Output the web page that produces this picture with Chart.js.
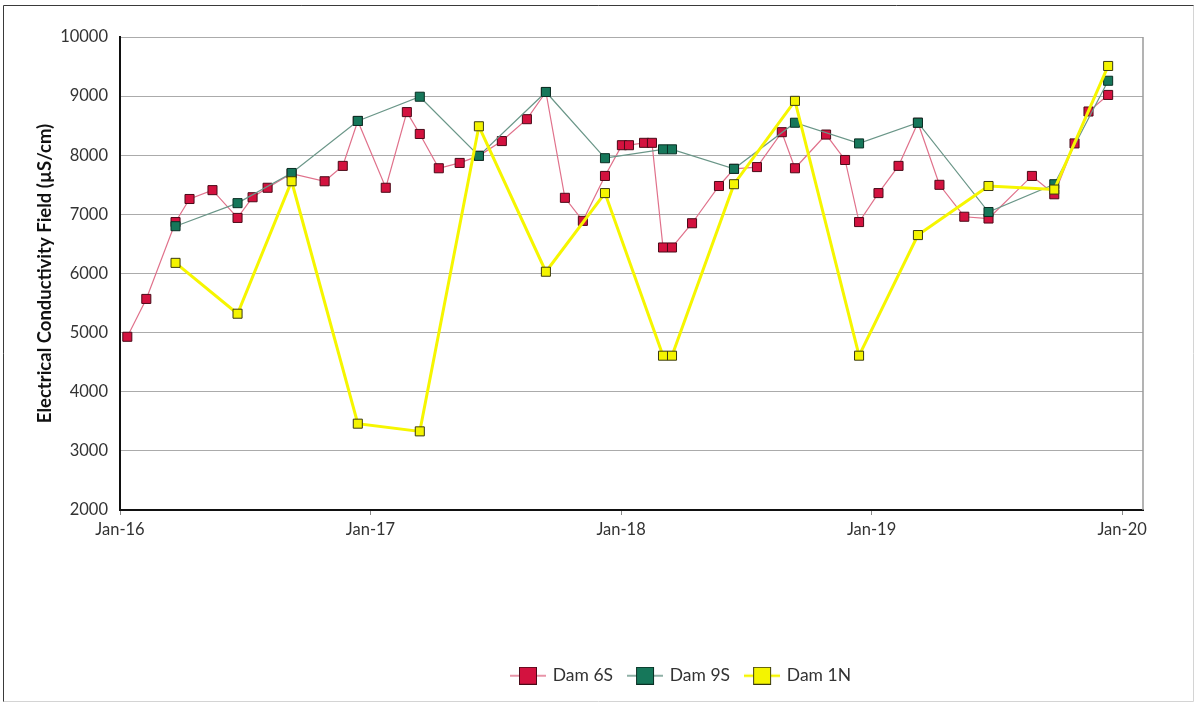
<!DOCTYPE html>
<html>
<head>
<meta charset="utf-8">
<title>Electrical Conductivity Field</title>
<script src="https://cdn.jsdelivr.net/npm/chart.js@4.4.1/dist/chart.umd.min.js"></script>
<style>
  html, body { margin: 0; padding: 0; background: #fff; }
  canvas { display: block; }
</style>
</head>
<body>
<canvas id="ecChart" width="1197" height="704"></canvas>
<script>
// x values are months counted from Jan 2016
const xTickLabels = ['Jan-16', 'Jan-17', 'Jan-18', 'Jan-19', 'Jan-20'];
const seriesNames = ['Dam 6S', 'Dam 9S', 'Dam 1N'];

const dam6sMonths = [0.35, 1.26, 2.66, 3.33, 4.43, 5.63, 6.35, 7.07, 8.22, 9.80,
  10.67, 11.39, 12.73, 13.74, 14.36, 15.27, 16.27, 17.19, 18.29, 19.49,
  20.40, 21.31, 22.17, 23.23, 24.04, 24.38, 25.10, 25.48, 26.01, 26.44,
  27.40, 28.69, 29.41, 30.51, 31.70, 32.33, 33.82, 34.73, 35.40, 36.33,
  37.29, 38.22, 39.25, 40.44, 41.60, 43.68, 44.75, 45.72, 46.39, 47.33];
const dam6sValues = [4930, 5570, 6870, 7260, 7410, 6940, 7290, 7450, 7690, 7560,
  7820, 8580, 7450, 8730, 8360, 7780, 7870, 7990, 8240, 8610,
  9070, 7280, 6890, 7650, 8170, 8170, 8210, 8210, 6440, 6440,
  6850, 7480, 7770, 7800, 8390, 7780, 8350, 7920, 6870, 7360,
  7820, 8550, 7500, 6960, 6930, 7650, 7340, 8200, 8740, 9020];

const dam9sMonths = [2.66, 5.63, 8.22, 11.39, 14.36, 17.19, 20.40, 23.23, 26.01,
  26.44, 29.41, 32.33, 35.40, 38.22, 41.60, 44.75, 47.33];
const dam9sValues = [6800, 7190, 7700, 8580, 8990, 7990, 9070, 7950, 8100,
  8100, 7770, 8550, 8200, 8550, 7040, 7510, 9260];

const dam1nMonths = [2.66, 5.63, 8.22, 11.39, 14.36, 17.19, 20.40, 23.23, 26.01,
  26.44, 29.41, 32.33, 35.40, 38.22, 41.60, 44.75, 47.33];
const dam1nValues = [6180, 5320, 7560, 3460, 3330, 8490, 6030, 7360, 4610,
  4610, 7510, 8920, 4610, 6650, 7480, 7420, 9510];

const lineColors = ['#e0718b', '#6a9688', '#f6f600'];
const fillColors = ['#d3123f', '#16775a', '#f4f400'];
const edgeColors = ['#4a0a18', '#0a2f24', '#3a3a10'];

function toPoints(months, values) {
  return months.map((m, i) => ({ x: m, y: values[i] }));
}

// little line + square swatch for the legend
function legendIcon(i) {
  const c = document.createElement('canvas');
  c.width = 36; c.height = 18;
  const g = c.getContext('2d');
  g.strokeStyle = lineColors[i];
  g.lineWidth = i === 2 ? 2.5 : 1.5;
  g.beginPath(); g.moveTo(0, 9); g.lineTo(36, 9); g.stroke();
  g.fillStyle = fillColors[i];
  g.fillRect(9, 0, 18, 18);
  g.strokeStyle = edgeColors[i];
  g.lineWidth = 1;
  g.strokeRect(9.5, 0.5, 17, 17);
  return c;
}

// page frame plus the grey right edge of the plot box
const frame = {
  id: 'frame',
  beforeDraw(chart) {
    const ctx = chart.ctx;
    ctx.save();
    ctx.fillStyle = '#fff';
    ctx.fillRect(0, 0, chart.width, chart.height);
    ctx.lineWidth = 1;
    ctx.strokeStyle = '#3a3a3a';
    ctx.beginPath();
    ctx.moveTo(3.5, 702); ctx.lineTo(3.5, 5.5); ctx.lineTo(1194, 5.5);
    ctx.stroke();
    ctx.strokeStyle = '#d4d4d4';
    ctx.beginPath();
    ctx.moveTo(1193.5, 5.5); ctx.lineTo(1193.5, 701.5); ctx.lineTo(3.5, 701.5);
    ctx.stroke();
    ctx.restore();
  },
  beforeDatasetsDraw(chart) {
    const { ctx, chartArea } = chart;
    ctx.save();
    ctx.strokeStyle = '#9a9a9a';
    ctx.lineWidth = 1.5;
    ctx.beginPath();
    ctx.moveTo(chartArea.right, chartArea.top);
    ctx.lineTo(chartArea.right, chartArea.bottom);
    ctx.stroke();
    ctx.restore();
  }
};

// legend sits to the right of centre, under the plot
const legendShift = {
  id: 'legendShift',
  afterLayout(chart) {
    const lg = chart.legend;
    lg.left += 110; lg.right += 110;
    lg.top = 651; lg.bottom = lg.top + lg.height;
  }
};

Chart.defaults.font.family = 'Lato, "Open Sans", sans-serif';
Chart.defaults.color = '#333';

new Chart(document.getElementById('ecChart'), {
  type: 'line',
  data: {
    datasets: [
      { label: seriesNames[0], data: toPoints(dam6sMonths, dam6sValues), order: 3, borderWidth: 1.2 },
      { label: seriesNames[1], data: toPoints(dam9sMonths, dam9sValues), order: 2, borderWidth: 1.2 },
      { label: seriesNames[2], data: toPoints(dam1nMonths, dam1nValues), order: 1, borderWidth: 3 }
    ].map((ds, i) => Object.assign(ds, {
      borderColor: lineColors[i],
      backgroundColor: fillColors[i],
      pointStyle: 'rect',
      pointRadius: 6.4,
      pointHoverRadius: 6.4,
      pointBackgroundColor: fillColors[i],
      pointBorderColor: edgeColors[i],
      pointBorderWidth: 1,
      tension: 0,
      fill: false
    }))
  },
  options: {
    responsive: false,
    animation: false,
    devicePixelRatio: 1,
    layout: { padding: { top: 37, right: 54, bottom: 0, left: 0 } },
    plugins: {
      tooltip: { enabled: false },
      legend: {
        position: 'bottom',
        labels: {
          usePointStyle: true,
          pointStyleWidth: 32,
          padding: 16,
          color: '#333',
          font: { size: 17.5 },
          generateLabels: chart => chart.data.datasets.map((ds, i) => ({
            text: ds.label,
            pointStyle: legendIcon(i),
            datasetIndex: i,
            hidden: false,
            lineWidth: 0,
            fontColor: '#333'
          }))
        }
      }
    },
    scales: {
      x: {
        type: 'linear',
        min: 0,
        max: 49,
        afterFit: s => { s.height = 194 - ((s.chart.legend && s.chart.legend.height) || 0); },
        afterBuildTicks: s => { s.ticks = xTickLabels.map((_, i) => ({ value: i * 12 })); },
        ticks: {
          autoSkip: false,
          maxRotation: 0,
          padding: 5,
          color: '#333',
          font: { size: 16.5 },
          callback: v => xTickLabels[v / 12]
        },
        grid: { drawOnChartArea: false, drawTicks: true, tickLength: 5, color: '#888' },
        border: { color: '#111', width: 2 }
      },
      y: {
        min: 2000,
        max: 10000,
        afterFit: s => { s.width = 120; },
        ticks: { stepSize: 1000, padding: 12, color: '#333', font: { size: 16.5 }, callback: v => String(v) },
        grid: { color: '#ababab', lineWidth: 1, drawTicks: false },
        border: { color: '#111', width: 2 },
        title: {
          display: true,
          text: 'Electrical Conductivity Field (µS/cm)',
          color: '#111',
          font: { size: 18.5, weight: 'bold' },
          padding: { top: 34, bottom: 0 }
        }
      }
    }
  },
  plugins: [frame, legendShift]
});
</script>
</body>
</html>
